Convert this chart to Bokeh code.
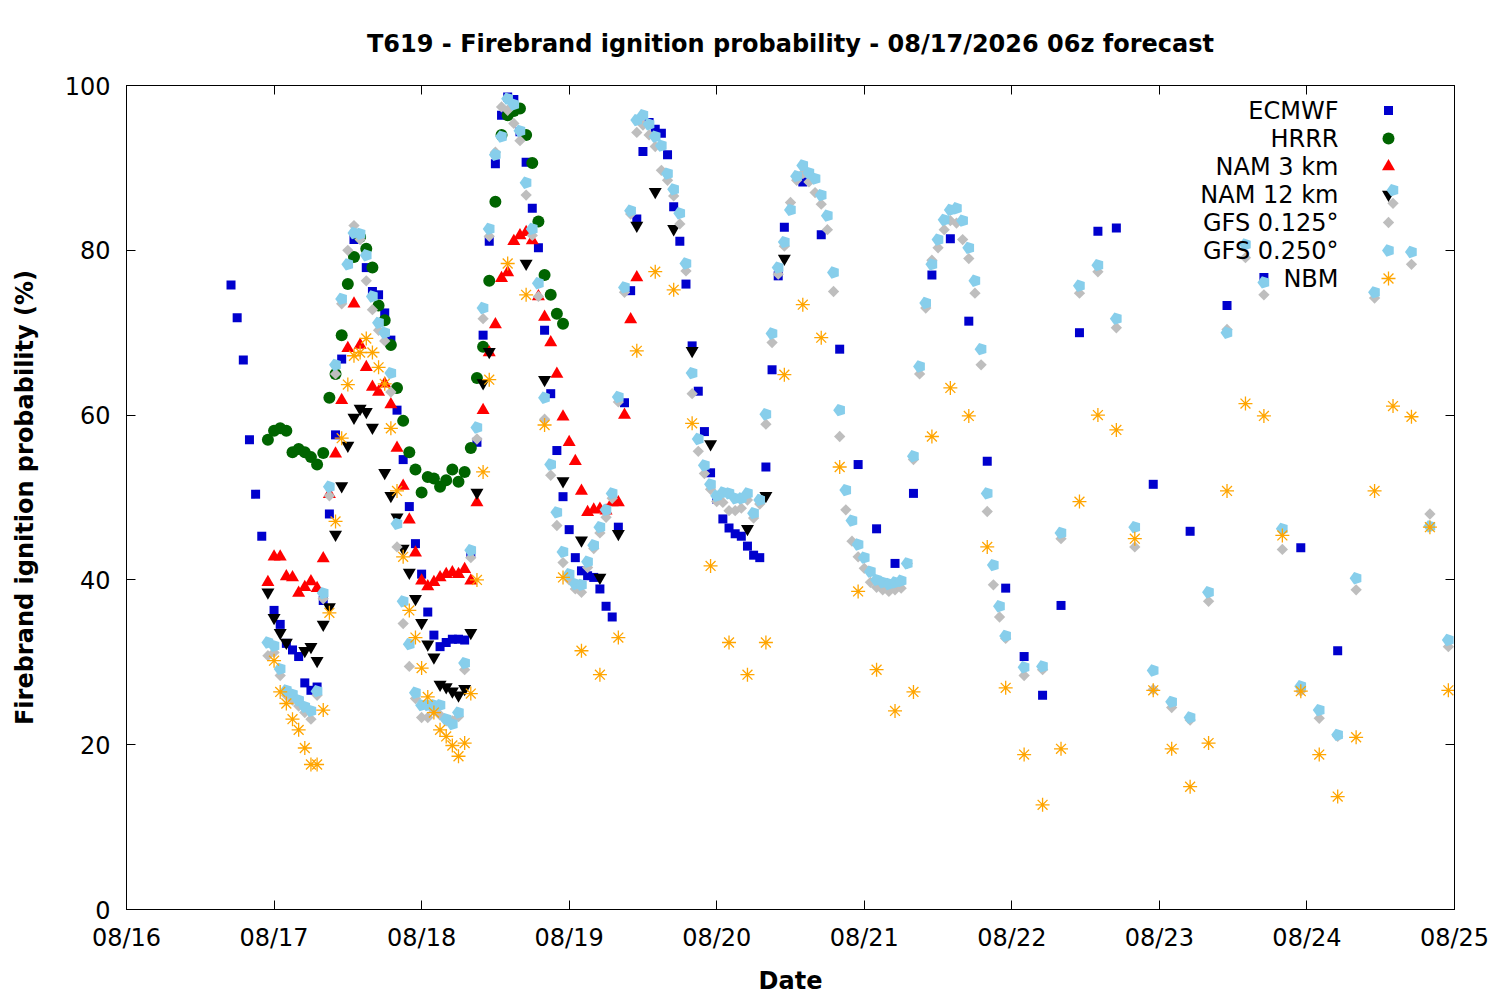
import numpy as np
from datetime import datetime
from bokeh.plotting import figure
from bokeh.models import (Range1d, FixedTicker, DatetimeTickFormatter, DatetimeAxis,
                          LinearAxis, Label)
from bokeh.embed import file_html
from bokeh.resources import INLINE

# valid times are hours after 08/16 00:00
ecmwf_h = [*range(17, 23), *range(24, 36), 37, *range(39, 108),
           *range(110, 162, 3), *range(167, 198, 6)]
ecmwf = [75.8, 71.8, 66.7, 57.0, 50.4, 45.3,
         36.3, 34.6, 32.3, 31.5, 30.7, 27.5, 26.6, 27.0, 37.5, 48.0, 57.6, 66.8,
         81.3,
         77.9, 75.0, 74.6, 72.4, 69.1, 60.6, 54.6, 48.9, 44.4, 40.7, 36.1, 33.3, 31.9, 32.4, 32.8, 32.8, 32.7,
         43.3, 56.7, 69.7, 81.1, 90.5, 96.4, 98.6, 98.3, 94.4, 90.7, 85.1, 80.3, 70.3, 62.6, 55.7, 50.1,
         46.1, 42.7, 41.1, 40.5, 40.3, 38.9, 36.8, 35.5,
         46.4, 61.5, 75.1, 83.8, 92.0, 95.5, 94.7, 94.2, 91.6, 85.3, 81.1, 75.9, 68.4, 62.9, 58.0, 53.0,
         49.8, 47.4, 46.3, 45.6, 45.3, 44.1, 43.0, 42.7, 53.7, 65.5, 76.9, 82.8,
         88.3, 81.9, 68.0, 54.0, 46.2, 42.0, 50.5, 77.0, 81.4, 71.4, 54.4, 39.0, 30.7, 26.0, 36.9, 70.0,
         82.3, 82.7,
         51.6, 45.9, 73.3, 76.7, 43.9, 31.4]

hrrr_h = list(range(23, 72))
hrrr = [57.0, 58.1, 58.4, 58.1, 55.5, 55.9, 55.5, 54.9, 54.0, 55.4,
        62.1, 65.0, 69.7, 75.9, 79.2, 81.6, 80.2, 77.9, 73.3, 71.5,
        68.5, 63.3, 59.3, 55.5, 53.4, 50.6, 52.5, 52.3, 51.3, 52.1,
        53.4, 51.9, 53.1, 56.0, 64.5, 68.3, 76.3, 85.9, 94.0, 96.4,
        96.9, 97.2, 94.0, 90.6, 83.5, 77.0, 74.6, 72.3, 71.1]

nam3_h = list(range(23, 84))
nam3 = [39.7, 42.8, 42.8, 40.4, 40.3, 38.4, 39.1, 39.8, 39.0, 42.6,
        50.4, 55.3, 61.8, 68.1, 73.5, 68.5, 65.8, 63.4, 62.8, 63.8,
        61.3, 56.0, 51.4, 47.3, 43.3, 39.9, 39.2, 39.7, 40.3, 40.7,
        40.9, 40.7, 41.3, 39.9, 49.4, 60.6, 67.6, 71.0, 76.6, 77.3,
        81.1, 81.8, 82.2, 81.2, 74.4, 71.9, 68.8, 65.0, 59.8, 56.7,
        54.4, 50.8, 48.2, 48.5, 48.6, 48.4, 49.4, 49.4, 60.0, 71.6, 76.7]

nam12_h = [23, 24, 25, 26, *range(29, 41), *range(42, 60),
           65, 68, 71, 74, 77, 80, 83, 86, 89, 92, 95, 101, 104, 107]
nam12 = [38.5, 35.4, 33.6, 32.4,
         31.4, 31.9, 30.2, 34.6, 36.7, 45.5, 51.4, 56.3, 59.7, 60.8, 60.4, 58.5,
         53.0, 50.2, 47.6, 43.8, 40.9, 37.7, 34.8, 32.2, 30.6, 27.3, 27.0, 26.5, 26.0, 26.8, 33.6, 50.6,
         63.9, 67.7,
         78.4, 64.3, 52.0, 44.8, 40.3, 45.6, 83.0, 87.1, 82.6, 67.8, 56.5, 46.2, 50.2, 79.0]

gfs_h = [*range(23, 144), *range(146, 216, 3)]
gfs125 = [30.8, 31.2, 28.4, 26.0, 25.4, 24.7, 23.9, 23.1, 26.0, 37.7,
          50.2, 65.0, 73.5, 80.0, 83.0, 81.3, 76.3, 72.8, 70.3, 69.0,
          62.8, 44.0, 34.7, 29.5, 25.6, 23.3, 23.3, 24.1, 23.6, 22.9,
          22.9, 23.4, 29.1, 42.7, 57.1, 71.7, 81.7, 91.9, 97.4, 97.0,
          95.4, 93.3, 86.7, 81.8, 74.4, 59.5, 52.7, 46.6, 42.1, 40.0,
          38.9, 38.5, 41.5, 43.8, 45.7, 47.6, 49.9, 61.6, 74.9, 84.4,
          94.3, 95.2, 94.0, 92.6, 89.7, 88.5, 86.6, 83.2, 77.5, 62.6,
          55.6, 52.9, 51.0, 49.5, 49.4, 48.4, 48.4, 48.7, 49.7, 47.5,
          49.2, 58.9, 68.8, 77.1, 80.5, 85.8, 88.5, 89.3, 88.3, 87.0,
          85.6, 82.5, 75.0, 57.4, 48.5, 44.7, 42.8, 41.4, 39.7, 39.1,
          38.8, 38.6, 38.8, 39.0, 42.0, 54.6, 65.0, 73.0, 78.8, 80.3,
          82.5, 83.6, 83.3, 81.3, 79.0, 74.8, 66.1, 48.3, 39.4, 35.5, 32.9,
          28.4, 29.1, 45.0, 74.8, 77.4, 70.6, 44.0, 26.7, 24.5, 23.0, 37.4, 70.4,
          79.1, 74.6, 43.7, 26.5, 23.2, 21.0, 38.8, 74.2, 85.7, 78.3, 48.0, 31.9]
gfs250 = [32.4, 32.0, 29.2, 26.6, 26.1, 25.4, 24.6, 24.1, 26.5, 38.4,
          51.3, 66.1, 74.1, 78.3, 82.1, 82.0, 79.4, 74.4, 71.2, 70.0,
          65.1, 46.8, 37.4, 32.2, 26.3, 24.8, 24.8, 24.8, 24.8, 23.1,
          22.5, 23.9, 29.9, 43.6, 58.5, 73.0, 82.6, 91.6, 93.8, 98.4,
          97.7, 94.5, 88.2, 82.6, 76.0, 62.1, 54.0, 48.2, 43.4, 40.7,
          39.5, 39.4, 42.2, 44.2, 46.4, 48.5, 50.5, 62.2, 75.5, 84.8,
          95.8, 96.4, 95.3, 93.8, 92.7, 89.3, 87.4, 84.5, 78.4, 65.1,
          57.1, 53.9, 51.6, 50.2, 50.6, 50.5, 49.9, 49.9, 50.5, 48.1,
          49.7, 60.1, 69.9, 77.9, 81.0, 84.9, 89.0, 90.3, 89.4, 88.7,
          86.7, 84.2, 77.3, 60.6, 50.9, 47.2, 44.3, 42.7, 41.0, 40.0,
          39.7, 39.5, 39.7, 39.9, 42.0, 55.0, 65.9, 73.6, 78.3, 81.3,
          83.7, 84.9, 85.1, 83.6, 80.3, 76.3, 68.0, 50.5, 41.8, 36.8, 33.2,
          29.4, 29.5, 45.7, 75.7, 78.2, 71.7, 46.4, 29.0, 25.2, 23.3, 38.5, 70.0,
          80.7, 76.1, 46.2, 27.1, 24.2, 21.2, 40.2, 74.9, 87.3, 79.8, 46.5, 32.7]

nbm_h = [*range(24, 60), *range(62, 216, 3)]
nbm = [30.2, 26.4, 25.0, 23.1, 21.8, 19.6, 17.6, 17.6, 24.2, 36.0,
       47.1, 57.2, 63.7, 67.2, 67.6, 69.3, 67.6, 65.8, 63.8, 58.4,
       50.8, 42.8, 36.3, 33.0, 29.3, 25.8, 23.9, 21.8, 21.0, 19.9,
       18.6, 20.2, 26.2, 40.0, 53.1, 64.3,
       78.4, 74.6, 58.8, 40.3, 31.4, 28.5, 33.0, 67.8, 77.4, 75.2,
       59.0, 41.7, 32.4, 28.5, 32.4, 64.9, 73.4, 69.4, 53.7, 38.6,
       29.1, 24.1, 26.4, 57.4, 63.3, 59.9, 44.0, 26.9, 18.8, 12.7,
       19.5, 49.5, 60.0, 58.2, 45.0, 26.6, 19.5, 14.9, 20.2, 50.8,
       61.4, 59.9, 45.4, 26.5, 18.8, 13.7, 20.9, 50.8, 61.1, 59.8,
       46.4, 26.6]

day_ticks_h = list(range(0, 217, 24))
y_ticks = [0, 20, 40, 60, 80, 100]

T0 = datetime(2026, 8, 16)
HOUR_MS = 3600 * 1000.0
t0_ms = (T0 - datetime(1970, 1, 1)).total_seconds() * 1000


def to_ms(hours):
    return [t0_ms + h * HOUR_MS for h in hours]


FONT = "DejaVu Sans"
FS = "24px"
FRAME_W, FRAME_H = 1328, 824
x_start, x_end = t0_ms, t0_ms + 216 * HOUR_MS

p = figure(frame_width=FRAME_W, frame_height=FRAME_H, x_axis_type="datetime",
           x_range=Range1d(x_start, x_end), y_range=Range1d(0, 100),
           output_backend="svg", toolbar_location=None,
           min_border_left=126, min_border_right=38, min_border_top=85, min_border_bottom=86)
p.background_fill_color = "white"
p.border_fill_color = "white"
p.xgrid.visible = False
p.ygrid.visible = False
p.outline_line_color = "black"
p.outline_line_width = 1

p.title.text = "T619 - Firebrand ignition probability - 08/17/2026 06z forecast"
p.title.align = "center"
p.title.text_font = FONT
p.title.text_font_size = FS
p.title.text_font_style = "bold"
p.title.text_color = "black"
p.title.standoff = 55

xticker = FixedTicker(ticks=to_ms(day_ticks_h))
yticker = FixedTicker(ticks=y_ticks)
fmt = DatetimeTickFormatter(days="%m/%d", months="%m/%d", hours="%m/%d")

bottom = p.below[0]
left = p.left[0]
bottom.ticker = xticker
bottom.formatter = fmt
left.ticker = yticker
bottom.axis_label = "Date"
left.axis_label = "Firebrand ignition probability (%)"

# mirrored ticks on the top and right edges, no labels
top = DatetimeAxis(ticker=xticker, formatter=fmt,
                   major_label_overrides={t: "" for t in to_ms(day_ticks_h)})
right = LinearAxis(ticker=yticker, major_label_overrides={t: "" for t in y_ticks})
p.add_layout(top, "above")
p.add_layout(right, "right")

for ax in [bottom, left, top, right]:
    ax.major_tick_in = 9
    ax.major_tick_out = 0
    ax.minor_tick_line_color = None
    ax.major_tick_line_color = "black"
    ax.axis_line_color = "black"
    ax.major_label_text_font = FONT
    ax.major_label_text_font_size = FS
    ax.major_label_text_color = "black"
    ax.axis_label_text_font = FONT
    ax.axis_label_text_font_size = FS
    ax.axis_label_text_font_style = "bold"
    ax.axis_label_text_color = "black"
for ax in [top, right]:
    ax.major_label_standoff = 0
bottom.major_label_standoff = 14
bottom.axis_label_standoff = 12
left.major_label_standoff = 16
left.axis_label_standoff = 23

# legend geometry (pixel offsets from the frame's top right corner)
h_per_px = (x_end - x_start) / FRAME_W
v_per_px = 100.0 / FRAME_H
key_text_x = x_end - 116 * h_per_px
key_sym_x = x_end - 66 * h_per_px


def key_y(i):
    return 100 - (25 + 28 * i) * v_per_px


def pentagons(x, y, color, size):
    try:
        return p.ngon(x=x, y=y, radius=size / 2, radius_units="screen", n=5,
                      angle=np.pi / 2, fill_color=color, line_color=None)
    except Exception:
        return p.scatter(x=x, y=y, marker="hex", size=size, fill_color=color, line_color=None)


series = [
    ("ECMWF", ecmwf_h, ecmwf, dict(marker="square", size=9, fill_color="#0000CD", line_color=None)),
    ("HRRR", hrrr_h, hrrr, dict(marker="circle", size=12, fill_color="#006400", line_color=None)),
    ("NAM 3 km", nam3_h, nam3, dict(marker="triangle", size=13, fill_color="#FF0000", line_color=None)),
    ("NAM 12 km", nam12_h, nam12, dict(marker="inverted_triangle", size=13, fill_color="black",
                                       line_color=None)),
    ("GFS 0.125°", gfs_h, gfs125, dict(marker="square", size=8, angle=np.pi / 4, fill_color="#BEBEBE",
                                       line_color=None)),
    ("GFS 0.250°", gfs_h, gfs250, "pentagon"),
    ("NBM", nbm_h, nbm, dict(marker="asterisk", size=14, line_color="#FFA500", line_width=1.3)),
]

for i, (name, hrs, vals, style) in enumerate(series):
    xs = to_ms(hrs)
    if style == "pentagon":
        pentagons(xs, vals, "#87CEEB", 13)
        pentagons([key_sym_x], [key_y(i)], "#87CEEB", 13)
    else:
        p.scatter(x=xs, y=vals, **style)
        p.scatter(x=[key_sym_x], y=[key_y(i)], **style)
    p.add_layout(Label(x=key_text_x, y=key_y(i), text=name, text_align="right",
                       text_baseline="middle", text_font=FONT, text_font_size=FS,
                       text_color="black"))

open("out.html", "w").write(file_html(p, INLINE))
